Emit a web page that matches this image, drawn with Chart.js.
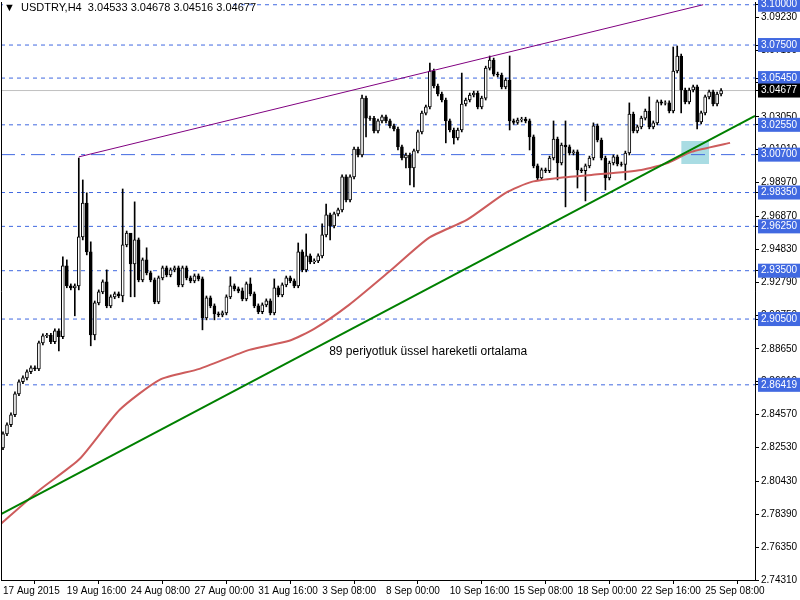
<!DOCTYPE html>
<html>
<head>
<meta charset="utf-8">
<script src="https://cdn.jsdelivr.net/npm/chart.js@4/dist/chart.umd.min.js"></script>
<style>
  body { margin: 0; background: #fff; }
  canvas { display: block; }
</style>
</head>
<body>
<canvas id="chart" width="800" height="600"></canvas>
<script>
// USDTRY H4 kapanislari (bar 0 = 17 Aug 2015 00:00)
const firstOpen = 2.8251;
const closes = [
  2.8338, 2.8394, 2.8456, 2.8586, 2.8661, 2.8685, 2.8723, 2.8747, 2.8741, 2.8902,
  2.8946, 2.8950, 2.8909, 2.8977, 2.8940, 2.9380, 2.9256, 2.9243, 2.9256, 2.9560,
  2.9770, 2.9467, 2.8952, 2.9150, 2.9219, 2.9281, 2.9132, 2.9188, 2.9206, 2.9194,
  2.9510, 2.9584, 2.9392, 2.9541, 2.9293, 2.9417, 2.9336, 2.9293, 2.9157, 2.9305,
  2.9367, 2.9324, 2.9355, 2.9367, 2.9262, 2.9367, 2.9305, 2.9287, 2.9318, 2.9299,
  2.9057, 2.9181, 2.9132, 2.9082, 2.9076, 2.9088, 2.9188, 2.9256, 2.9237, 2.9225,
  2.9175, 2.9268, 2.9206, 2.9132, 2.9095, 2.9138, 2.9163, 2.9088, 2.9243, 2.9200,
  2.9262, 2.9305, 2.9287, 2.9256, 2.9467, 2.9355, 2.9442, 2.9405, 2.9411, 2.9442,
  2.9572, 2.9696, 2.9628, 2.9702, 2.9727, 2.9932, 2.9789, 2.9932, 3.0105, 3.0068,
  3.0421, 3.0297, 3.0295, 3.0217, 3.0279, 3.0304, 3.0279, 3.0248, 3.0229, 3.0118,
  3.0049, 3.0068, 2.9987, 3.0093, 3.0211, 3.0328, 3.0366, 3.0589, 3.0496, 3.0446,
  3.0409, 3.0279, 3.0223, 3.0173, 3.0223, 3.0384, 3.0409, 3.0440, 3.0452, 3.0366,
  3.0421, 3.0607, 3.0657, 3.0570, 3.0564, 3.0490, 3.0533, 3.0279, 3.0270, 3.0285,
  3.0290, 3.0279, 3.0180, 3.0000, 2.9925, 2.9975, 2.9970, 3.0049, 3.0167, 3.0018,
  3.0130, 3.0118, 3.0080, 3.0087, 2.9975, 2.9970, 3.0000, 3.0049, 3.0248, 3.0161,
  3.0049, 2.9925, 3.0018, 3.0056, 3.0012, 3.0010, 3.0080, 3.0322, 3.0217, 3.0242,
  3.0297, 3.0341, 3.0242, 3.0267, 3.0397, 3.0390, 3.0392, 3.0341, 3.0589, 3.0682,
  3.0471, 3.0397, 3.0471, 3.0490, 3.0273, 3.0329, 3.0428, 3.0459, 3.0384, 3.0446,
  3.0468
];
// belirgin fitiller (bar index -> fiyat)
const highs = {
  15: 2.9436, 16: 2.9417, 19: 3.0049, 20: 2.9913, 21: 2.9833, 22: 2.9529, 26: 2.9355,
  30: 2.9857, 32: 2.9578, 33: 2.9777, 36: 2.9492, 57: 2.9312, 60: 2.9243, 62: 2.9305,
  68: 2.9299, 74: 2.9522, 76: 2.9578, 80: 2.9640, 81: 2.9764, 90: 3.0440, 107: 3.0638,
  115: 3.0576, 122: 3.0682, 127: 3.0682, 138: 3.0279, 141: 3.0279, 148: 3.0267,
  157: 3.0391, 162: 3.0428, 168: 3.0738, 169: 3.0744
};
const lows = {
  14: 2.8853, 18: 2.9070, 19: 2.9231, 20: 2.9541, 21: 2.9448, 22: 2.8884, 23: 2.8921,
  30: 2.9157, 32: 2.9188, 33: 2.9188, 50: 2.8983, 53: 2.9045, 82: 2.9541, 91: 3.0180,
  99: 3.0099, 101: 2.9987, 102: 2.9882, 103: 2.9870, 111: 3.0143, 113: 3.0136,
  127: 3.0223, 132: 3.0099, 134: 2.9913, 139: 2.9913, 141: 2.9746, 144: 2.9863,
  146: 2.9783, 151: 2.9851, 156: 2.9913, 170: 3.0329, 174: 3.0229, 175: 3.0260
};
const wickSize = 0.0012;

// 89 periyot EMA (okunan noktalar)
const emaIdx = [-0.75, 9.25, 19.25, 29.25, 39.25, 49.25, 61.75, 71.75, 78, 86.75, 96.75,
  106.75, 116.25, 126, 132.5, 141.75, 147.5, 160, 166.75, 172.5, 182.25];
const emaVal = [2.7774, 2.7991, 2.8183, 2.8487, 2.8673, 2.8741, 2.8859, 2.8915, 2.8989,
  2.9138, 2.9343, 2.9554, 2.9665, 2.9833, 2.9901, 2.9932, 2.9944, 2.9975, 3.0019,
  3.0087, 3.0143];

const levels = [3.1000, 3.0750, 3.0545, 3.0255, 3.0070, 2.9835, 2.9625, 2.9350, 2.9050, 2.86419];
const lastPrice = 3.04677;
const greenLine = [[-0.75, 2.7836], [188.5, 3.0310]];
const purpleLine = [[19, 3.0056], [175.5, 3.1000]];
const boxIdx = [170, 177];
const boxPrice = [3.0155, 3.0012];

const axisTicks = [3.0923, 3.0719, 3.0515, 3.0305, 3.0101, 2.9897, 2.9687, 2.9483, 2.9279,
  2.9075, 2.8865, 2.8661, 2.8457, 2.8253, 2.8043, 2.7839, 2.7635, 2.7431];
const timeTicks = [0, 16, 32, 48, 64, 80, 96, 112, 128, 144, 160, 176];
const timeLabels = ['17 Aug 2015', '19 Aug 16:00', '24 Aug 08:00', '27 Aug 00:00',
  '31 Aug 16:00', '3 Sep 08:00', '8 Sep 00:00', '10 Sep 16:00', '15 Sep 08:00',
  '18 Sep 00:00', '22 Sep 16:00', '25 Sep 08:00'];

const font = "'Liberation Sans', 'DejaVu Sans', sans-serif";
const blue = '#4169e1';

const bodies = [], wicks = [], bodyFill = [];
closes.forEach((c, i) => {
  const o = i === 0 ? firstOpen : closes[i - 1];
  const top = Math.max(o, c), bot = Math.min(o, c);
  bodies.push({ x: i, y: [bot, top === bot ? top + 0.0002 : top] });
  bodyFill.push(c >= o ? '#ffffff' : '#000000');
  const h = highs[i] !== undefined ? highs[i] : top + wickSize;
  const l = lows[i] !== undefined ? lows[i] : bot - wickSize;
  wicks.push({ x: i, y: [l, h] });
});

function hLine(v, color, dash, width) {
  return { type: 'line', data: [{ x: -0.5, y: v }, { x: 188.5, y: v }], borderColor: color,
    borderWidth: width || 1, borderDash: dash, pointRadius: 0, order: 8 };
}
const datasets = [];
levels.forEach(v => datasets.push(hLine(v, blue, v === 3.0070 ? [14, 6, 4, 6] : [4, 4])));
datasets.push(hLine(lastPrice, '#c0c0c0', []));
datasets.push({ type: 'line', data: boxIdx.map(x => ({ x, y: boxPrice[0] })), borderWidth: 0,
  pointRadius: 0, backgroundColor: '#a9dce3', fill: '+1', order: 9 });
datasets.push({ type: 'line', data: boxIdx.map(x => ({ x, y: boxPrice[1] })), borderWidth: 0,
  pointRadius: 0, order: 9 });
datasets.push({ type: 'bar', data: wicks, backgroundColor: '#000', barThickness: 1, order: 3, grouped: false });
datasets.push({ type: 'bar', data: bodies, backgroundColor: bodyFill, borderColor: '#000',
  borderWidth: 1, barThickness: 3, order: 2, grouped: false, borderSkipped: false });
datasets.push({ type: 'line', data: emaIdx.map((x, i) => ({ x, y: emaVal[i] })), borderColor: '#cd5c5c',
  borderWidth: 2, pointRadius: 0, tension: 0.2, order: 1 });
datasets.push({ type: 'line', data: greenLine.map(p => ({ x: p[0], y: p[1] })), borderColor: '#008000',
  borderWidth: 2, pointRadius: 0, order: 0 });
datasets.push({ type: 'line', data: purpleLine.map(p => ({ x: p[0], y: p[1] })), borderColor: '#800080',
  borderWidth: 1, pointRadius: 0, order: 0 });

const boxed = levels.concat([lastPrice]);
const extras = {
  id: 'extras',
  afterDatasetsDraw(chart) {
    const { ctx, chartArea: a, scales: { x, y } } = chart;
    ctx.save();
    ctx.strokeStyle = '#000'; ctx.lineWidth = 1;
    ctx.beginPath();
    ctx.moveTo(a.left + 0.5, a.top); ctx.lineTo(a.left + 0.5, a.bottom + 0.5);
    ctx.lineTo(a.right + 0.5, a.bottom + 0.5); ctx.lineTo(a.right + 0.5, a.top);
    ctx.stroke();
    ctx.fillStyle = '#000';
    ctx.font = '12px ' + font;
    ctx.textBaseline = 'middle';
    ctx.fillText('89 periyotluk üssel hareketli ortalama', x.getPixelForValue(81.75), y.getPixelForValue(2.8847));
    ctx.font = '11px ' + font;
    ctx.fillStyle = '#fff';
    ctx.fillRect(3, 1, 228, 13);
    ctx.fillStyle = '#000';
    ctx.fillText('\u25BC  USDTRY,H4  3.04533 3.04678 3.04516 3.04677', 4, 8);
    ctx.restore();
  }
};

new Chart(document.getElementById('chart'), {
  type: 'bar',
  data: { datasets },
  plugins: [extras],
  options: {
    responsive: false,
    animation: false,
    layout: { padding: { top: 2, left: 1, right: 0, bottom: 0 } },
    plugins: { legend: { display: false }, tooltip: { enabled: false } },
    scales: {
      x: {
        type: 'linear', min: -0.5, max: 188.5, offset: false,
        grid: { drawOnChartArea: false, color: '#000', tickLength: 4 },
        border: { color: '#000' },
        afterBuildTicks: s => { s.ticks = timeTicks.map(v => ({ value: v })); },
        afterFit: s => { s.height = 20; s.paddingLeft = 0; s.paddingRight = 0; },
        ticks: {
          autoSkip: false, maxRotation: 0, align: 'start', padding: 1,
          color: '#000', font: { family: font, size: 10 },
          callback: v => timeLabels[timeTicks.indexOf(v)]
        }
      },
      y: {
        position: 'right', min: 2.7431, max: 3.1017,
        grid: { drawOnChartArea: false, color: '#000', tickLength: 4 },
        border: { color: '#000' },
        afterBuildTicks: s => { s.ticks = axisTicks.concat(boxed).map(v => ({ value: v })); },
        afterFit: s => { s.width = 45; s.paddingTop = 0; s.paddingBottom = 0; },
        ticks: {
          autoSkip: false, padding: 2, font: { family: font, size: 10 },
          callback: v => v.toFixed(5),
          color: c => boxed.includes(c.tick.value) ? '#fff' : '#000',
          showLabelBackdrop: c => boxed.includes(c.tick.value),
          backdropColor: c => c.tick.value === lastPrice ? '#000' : blue,
          backdropPadding: { x: 3, y: 1 }
        }
      }
    }
  }
});
</script>
</body>
</html>
